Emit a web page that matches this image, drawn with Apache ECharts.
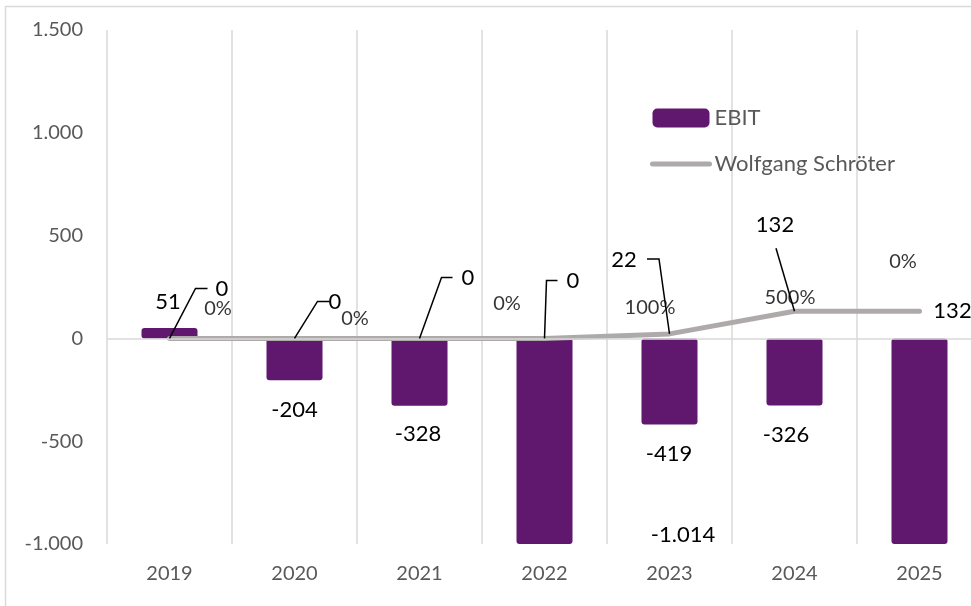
<!DOCTYPE html>
<html><head><meta charset="utf-8">
<script src="https://cdn.jsdelivr.net/npm/echarts@6/dist/echarts.min.js"></script>
<style>html,body{margin:0;padding:0;background:#fff}#c{width:971px;height:606px}</style>
</head><body><div id="c"></div>
<script>
// ---- data ----
const years = ['2019', '2020', '2021', '2022', '2023', '2024', '2025'];
const ebit = [51, -204, -328, -1014, -419, -326, -1100];
const schroeter = [0, 0, 0, 0, 22, 132, 132];
const growthLabels = ['0%', '0%', '', '0%', '100%', '500%', '0%'];
const yMin = -1000, yMax = 1500, yStep = 500;

// ---- label placement (style, pixel offsets from the data point) ----
const ebitLabelOffsets = [[-1.5, -26], [0, 30], [-1.5, 28], [138.5, -9], [-0.5, 29.5], [-8.5, 29], null];
const lineLabelOffsets = [[52.5, -49], [40.5, -36], [48.5, -60], [28.5, -57], [-45.5, -73.5], [-19.5, -86], [33, 0]];
const growthLabelOffsets = [[48.5, -30], [60.5, -19.5], null, [-37.5, -34.5], [-19.5, -26], [-4.5, -14], [-16.5, -50]];
// leader lines: [elbow, end] relative to the data point
const leaderOffsets = [
  [[26, -50], [38, -50]],
  [[23, -37], [35, -37]],
  [[22, -61], [33, -61]],
  [[2, -58], [13, -58]],
  [[-10.5, -75], [-22.5, -75]],
  [[-18.5, -63], [-18.5, -63]],
  null
];

const FONT = 'Lato';
const PURPLE = '#60176e';
const GREY = '#aeaaaa';

function de(v) {
  const s = Math.abs(v).toString().replace(/\B(?=(\d{3})+(?!\d))/g, '.');
  return (v < 0 ? '-' : '') + s;
}

const frame = {
  type: 'rect', silent: true, z: -10,
  shape: {x: 5.5, y: 6.5, width: 1200, height: 1200},
  style: {fill: 'none', stroke: '#d9d9d9', lineWidth: 1.5}
};

const chart = echarts.init(document.getElementById('c'), null, {renderer: 'canvas'});
chart.setOption({
  animation: false,
  backgroundColor: '#fff',
  graphic: [frame],
  grid: {left: 107, right: -11, top: 30, bottom: 62, containLabel: false, outerBoundsMode: 'none'},
  legend: {
    data: [
      {name: 'EBIT', icon: 'roundRect'},
      {name: 'Wolfgang Schröter', itemStyle: {opacity: 0}, lineStyle: {width: 5, color: GREY, cap: 'round'}}
    ],
    orient: 'vertical', left: 650, top: 107, padding: 0,
    itemWidth: 57, itemHeight: 19, itemGap: 24,
    selectedMode: false,
    textStyle: {fontSize: 22, color: '#595959', fontFamily: FONT}
  },
  xAxis: {
    type: 'category', data: years, boundaryGap: true,
    axisLine: {show: false}, axisTick: {show: false},
    axisLabel: {color: '#595959', fontSize: 20, fontFamily: FONT, margin: 20},
    splitLine: {show: true, lineStyle: {color: '#d9d9d9', width: 1.5}}
  },
  yAxis: {
    type: 'value', min: yMin, max: yMax, interval: yStep,
    axisLine: {show: false}, axisTick: {show: false},
    splitLine: {show: false},
    axisLabel: {color: '#595959', fontSize: 20, fontFamily: FONT, margin: 24, formatter: de}
  },
  series: [
    {
      name: 'EBIT', type: 'bar', barWidth: 56, z: 2,
      data: ebit.map((v, i) => ebitLabelOffsets[i] ? v : {value: v, label: {show: false}}),
      itemStyle: {color: PURPLE, borderRadius: 3},
      label: {show: true, position: 'outside', fontSize: 22, color: '#000', fontFamily: FONT,
        formatter: p => de(p.value)},
      labelLayout: p => {
        const o = ebitLabelOffsets[p.dataIndex];
        if (!o) return {};
        const r = p.rect;
        const neg = ebit[p.dataIndex] < 0;
        return {x: r.x + r.width / 2 + o[0], y: (neg ? r.y + r.height : r.y) + o[1], align: 'center', verticalAlign: 'middle'};
      },
      markLine: {
        silent: true, symbol: ['none', 'none'], label: {show: false},
        lineStyle: {color: '#d9d9d9', width: 1.5, type: 'solid'},
        data: [{yAxis: 0}]
      }
    },
    {
      name: 'Wolfgang Schröter', type: 'line', z: 3,
      data: schroeter,
      symbol: 'circle', symbolSize: 1, showSymbol: true,
      itemStyle: {color: GREY},
      lineStyle: {color: GREY, width: 5, cap: 'round', join: 'round'},
      label: {show: true, position: 'inside', fontSize: 22, color: '#000', fontFamily: FONT,
        formatter: p => de(p.value)},
      labelLayout: p => {
        const o = lineLabelOffsets[p.dataIndex];
        const r = p.rect;
        return {x: r.x + r.width / 2 + o[0], y: r.y + r.height / 2 + o[1], align: 'center', verticalAlign: 'middle'};
      }
    },
    {
      name: 'growth', type: 'scatter', z: 4, silent: true,
      data: schroeter.map((v, i) => growthLabels[i] ? v : {value: v, label: {show: false}}),
      symbolSize: 1, itemStyle: {color: 'rgba(0,0,0,0)'},
      label: {show: true, position: 'inside', fontSize: 20, color: '#000', fontFamily: FONT,
        formatter: p => growthLabels[p.dataIndex]},
      labelLayout: p => {
        const o = growthLabelOffsets[p.dataIndex];
        if (!o) return {};
        const r = p.rect;
        return {x: r.x + r.width / 2 + o[0], y: r.y + r.height / 2 + o[1], align: 'center', verticalAlign: 'middle'};
      }
    }
  ]
});

// leader lines from each data point of the line series to its label
const leaders = [];
schroeter.forEach((v, i) => {
  const L = leaderOffsets[i];
  if (!L) return;
  const p = chart.convertToPixel({xAxisIndex: 0, yAxisIndex: 0}, [i, v]);
  leaders.push({
    type: 'polyline', silent: true, z: 10,
    shape: {points: [p, [p[0] + L[0][0], p[1] + L[0][1]], [p[0] + L[1][0], p[1] + L[1][1]]]},
    style: {stroke: '#000', lineWidth: 1.5, fill: null}
  });
});
chart.setOption({graphic: [frame].concat(leaders)});
</script>
</body></html>
